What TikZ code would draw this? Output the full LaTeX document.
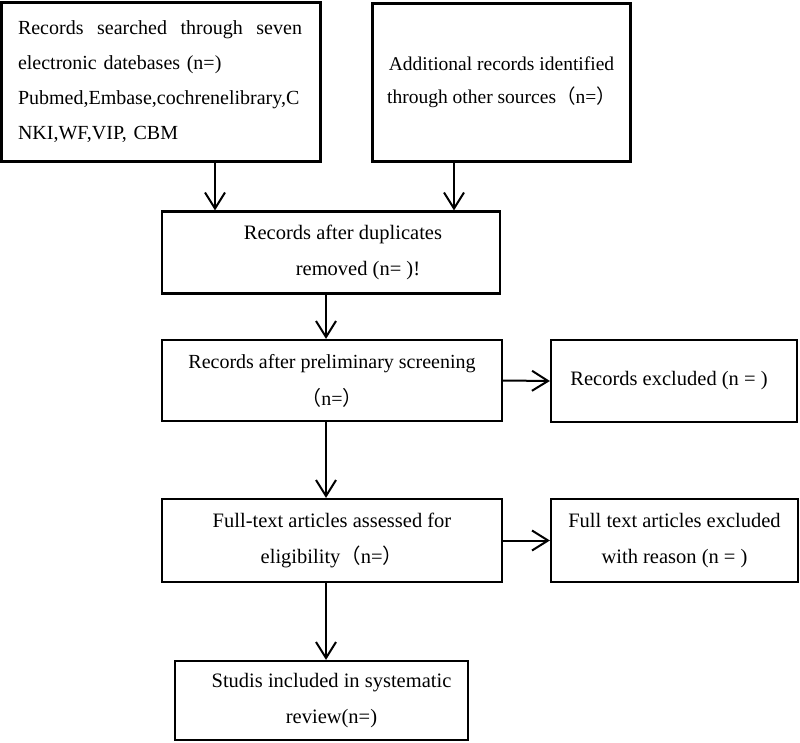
\documentclass[tikz,border=0pt]{standalone}
\usepackage{fontspec}
\setmainfont{Liberation Serif}
\newfontfamily\cjkfnt{Noto Sans CJK SC}
\usetikzlibrary{arrows.meta}
\newcommand{\flp}{{\cjkfnt （}}
\newcommand{\frp}{{\cjkfnt ）}}
\begin{document}
\begin{tikzpicture}[x=1pt,y=-1pt,
  box/.style={draw, line width=2.2pt, rectangle, inner sep=0pt, align=center,
    font=\fontsize{20.5}{36}\selectfont},
  arr/.style={line width=2pt, -{Straight Barb[length=16pt,width=20pt,line width=2pt]}}]
\useasboundingbox[fill=white] (0,0) rectangle (800,743);

\node[box, minimum width=319pt, minimum height=159pt, text width=286pt, align=left,
  font=\fontsize{20}{35}\selectfont] (b1) at (161,82)
  {\hbox to 284pt{Records\hfill searched\hfill through\hfill seven}\\
   electronic datebases (n=)\\
   Pubmed,Embase,cochrenelibrary,C\\
   NKI,WF,VIP, CBM};

\node[box, minimum width=258pt, minimum height=158pt,
  font=\fontsize{19.5}{33}\selectfont] (b2) at (501.5,82.5)
  {Additional records identified\\through other sources\flp n=\frp};

\node[box, minimum width=338pt, minimum height=82pt] (b3) at (331,252.5)
  {\hspace*{24pt}Records after duplicates\\\hspace*{54pt}removed (n= )!};

\node[box, minimum width=340pt, minimum height=81pt,
  font=\fontsize{20}{37}\selectfont] (b4) at (332,380.5)
  {Records after preliminary screening\\\flp n=\frp};

\node[box, minimum width=246pt, minimum height=82pt] (ex1) at (674,381)
  {Records excluded (n = )\hspace*{10pt}};

\node[box, minimum width=340pt, minimum height=83pt] (b5) at (332,540.5)
  {Full-text articles assessed for\\eligibility\flp n=\frp};

\node[box, minimum width=247pt, minimum height=83pt] (ex2) at (674.5,540.5)
  {Full text articles excluded\\with reason (n = )};

\node[box, minimum width=293pt, minimum height=79pt] (b7) at (321.5,700.5)
  {\hspace*{20pt}Studis included in systematic\\\hspace*{20pt}review(n=)};

\coordinate (x1) at (215,0);
\coordinate (x2) at (454,0);
\coordinate (x3) at (326,0);

\draw[arr] (x1 |- b1.south) -- (x1 |- b3.north);
\draw[arr] (x2 |- b2.south) -- (x2 |- b3.north);
\draw[arr] (x3 |- b3.south) -- (x3 |- b4.north);
\draw[arr] (x3 |- b4.south) -- (x3 |- b5.north);
\draw[arr] (x3 |- b5.south) -- (x3 |- b7.north);
\draw[arr] (b4.east) -- (ex1.west);
\draw[arr] (b5.east) -- (ex2.west);
\end{tikzpicture}
\end{document}
